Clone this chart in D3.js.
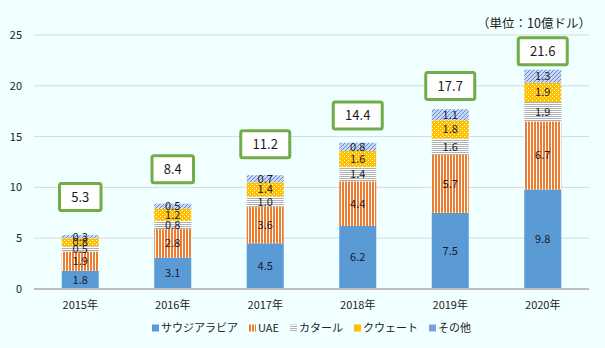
<!DOCTYPE html>
<html><head><meta charset="utf-8">
<script src="https://cdn.jsdelivr.net/npm/d3@7"></script>
<style>
html,body{margin:0;padding:0;background:#F0FFFF;}
svg{display:block;font-family:"Noto Sans CJK JP","Noto Sans",sans-serif;}
</style></head><body>
<svg id="c" width="605" height="348"></svg>
<script>
const years = ["2015年","2016年","2017年","2018年","2019年","2020年"];
const seriesNames = ["サウジアラビア","UAE","カタール","クウェート","その他"];
const saudi  = [1.8,3.1,4.5,6.2,7.5,9.8];
const uae    = [1.9,2.8,3.6,4.4,5.7,6.7];
const qatar  = [0.5,0.8,1.0,1.4,1.6,1.9];
const kuwait = [0.8,1.2,1.4,1.6,1.8,1.9];
const other  = [0.3,0.5,0.7,0.8,1.1,1.3];
const totals = [5.3,8.4,11.2,14.4,17.7,21.6];
const yTicks = [0,5,10,15,20,25];
const unitLabel = "（単位：10億ドル）";

const svg = d3.select("#c");
const W = 605, H = 348;
svg.append("rect").attr("width",W).attr("height",H).attr("fill","#F0FFFF");

const defs = svg.append("defs");
// UAE vertical stripes
let p = defs.append("pattern").attr("id","pUAE").attr("patternUnits","userSpaceOnUse").attr("width",3).attr("height",3);
p.append("rect").attr("width",3).attr("height",3).attr("fill","#ffffff");
p.append("rect").attr("width",2).attr("height",3).attr("fill","#ED7D31");
// Qatar horizontal stripes
p = defs.append("pattern").attr("id","pQ").attr("patternUnits","userSpaceOnUse").attr("width",3).attr("height",2);
p.append("rect").attr("width",3).attr("height",2).attr("fill","#ffffff");
p.append("rect").attr("width",3).attr("height",1).attr("fill","#B0B0B0");
// Kuwait dotted
p = defs.append("pattern").attr("id","pK").attr("patternUnits","userSpaceOnUse").attr("width",4).attr("height",4);
p.append("rect").attr("width",4).attr("height",4).attr("fill","#FFC000");
p.append("rect").attr("x",0).attr("y",0).attr("width",1).attr("height",1).attr("fill","#ffffff");
p.append("rect").attr("x",2).attr("y",2).attr("width",1).attr("height",1).attr("fill","#ffffff");
// Other diagonal
p = defs.append("pattern").attr("id","pO").attr("patternUnits","userSpaceOnUse").attr("width",4).attr("height",4);
p.append("rect").attr("width",4).attr("height",4).attr("fill","#C9D8F2");
p.append("path").attr("d","M0,4 L4,0 M-1,1 L1,-1 M3,5 L5,3").attr("stroke","#5B80CC").attr("stroke-width",0.9);

const fills = ["#5B9BD5","url(#pUAE)","url(#pQ)","url(#pK)","url(#pO)"];
const legendFills = ["#5B9BD5","url(#pUAE)","url(#pQ)","#FFC000","#7F9FD8"];

const x = d3.scaleBand().domain(years).range([34,589]).paddingInner(0.6).paddingOuter(0.3);
const y = d3.scaleLinear().domain([0,25]).range([289,35]);

// gridlines
svg.append("g").selectAll("line").data(yTicks.filter(d=>d>0)).join("line")
  .attr("x1",34).attr("x2",589).attr("y1",d=>y(d)).attr("y2",d=>y(d))
  .attr("stroke","#D9D9D9").attr("stroke-width",1);

// y axis labels
const yAxis = d3.axisLeft(y).tickValues(yTicks).tickSize(0).tickPadding(12);
const gy = svg.append("g").attr("transform","translate(34,0)").call(yAxis);
gy.select(".domain").remove();
gy.selectAll("text").attr("font-size",11).attr("fill","#222").attr("font-family","'Noto Sans CJK JP',sans-serif");

// stack
const table = years.map((yr,i)=>({year:yr, s0:saudi[i], s1:uae[i], s2:qatar[i], s3:kuwait[i], s4:other[i]}));
const keys = ["s0","s1","s2","s3","s4"];
const stack = d3.stack().keys(keys)(table);

const layers = svg.append("g").selectAll("g").data(stack).join("g").attr("fill",(d,i)=>fills[i]);
layers.selectAll("rect").data(d=>d).join("rect")
  .attr("x",d=>x(d.data.year)).attr("width",x.bandwidth())
  .attr("y",d=>y(d[1])).attr("height",d=>y(d[0])-y(d[1]));

// segment labels
const lab = svg.append("g").attr("font-size",11).attr("fill","#1a1a2a").attr("text-anchor","middle");
stack.forEach((layer,li)=>{
  layer.forEach(d=>{
    lab.append("text").attr("x",x(d.data.year)+x.bandwidth()/2)
      .attr("y",(y(d[0])+y(d[1]))/2).attr("dy","0.36em")
      .text((d[1]-d[0]).toFixed(1));
  });
});

// x axis line
svg.append("line").attr("x1",34).attr("x2",589).attr("y1",y(0)).attr("y2",y(0))
  .attr("stroke","#BFBFBF").attr("stroke-width",2);
const xAxis = d3.axisBottom(x).tickSize(0).tickPadding(12);
const gx = svg.append("g").attr("transform",`translate(0,${y(0)})`).call(xAxis);
gx.select(".domain").remove();
gx.selectAll("text").attr("font-size",11).attr("fill","#222").attr("font-family","'Noto Sans CJK JP',sans-serif");

// total boxes
const tg = svg.append("g");
totals.forEach((t,i)=>{
  const cx = x(years[i])+x.bandwidth()/2;
  const cy = y(t + 4.4 - 0.12*t);
  const txt = t.toFixed(1);
  const w = txt.length*7.5 + 19, h = 27;
  tg.append("rect").attr("x",cx-w/2).attr("y",cy-h/2).attr("width",w).attr("height",h)
    .attr("rx",2).attr("fill","#ffffff").attr("stroke","#70AD47").attr("stroke-width",3);
  tg.append("text").attr("x",cx).attr("y",cy).attr("dy","0.36em").attr("text-anchor","middle")
    .attr("font-size",13).attr("fill","#1a1a1a").text(txt);
});

// unit label
svg.append("text").attr("x",591).attr("y",23).attr("dy","0.36em").attr("text-anchor","end")
  .attr("font-size",12.5).attr("fill","#222").text(unitLabel);

// legend
const lg = svg.append("g").attr("font-size",11).attr("fill","#222");
const itemW = seriesNames.map(n=>9 + n.length*11 + (n==="UAE"? -12:0));
let total = itemW.reduce((a,b)=>a+b,0) + 11*(seriesNames.length-1);
let lx = (34+589)/2 - total/2;
seriesNames.forEach((n,i)=>{
  lg.append("rect").attr("x",lx).attr("y",328-3.5).attr("width",7).attr("height",7).attr("fill",legendFills[i]);
  lg.append("text").attr("x",lx+9).attr("y",328).attr("dy","0.36em").text(n);
  lx += itemW[i] + 11;
});
</script>
</body></html>
